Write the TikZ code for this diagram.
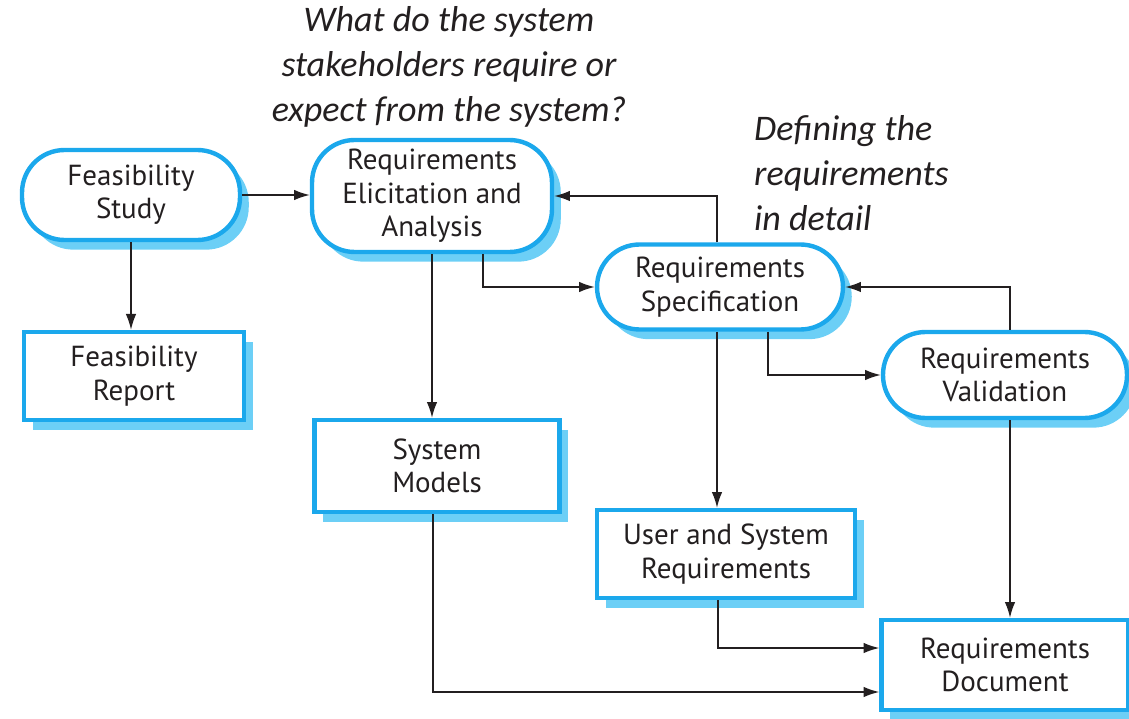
\documentclass[tikz,border=0pt]{standalone}
\usepackage{fontspec}
\setmainfont{PT Sans}
\newfontfamily\notefont{Carlito}
\usetikzlibrary{shadows,arrows.meta}
\definecolor{boxblue}{HTML}{1BA8EC}
\definecolor{shadeblue}{HTML}{6CCFF6}
\definecolor{ink}{HTML}{231F20}
\begin{document}
\begin{tikzpicture}[x=0.02cm, y=-0.02cm,
    base/.style = {draw=boxblue, line width=2.5pt, fill=white, text=ink, align=center,
      font=\fontsize{16.5}{19}\selectfont,
      drop shadow={fill=shadeblue, opacity=1, shadow xshift=5pt, shadow yshift=-5.5pt}},
    stage/.style = {base, rounded corners=0.85cm},
    doc/.style = {base},
    arr/.style = {draw=ink, line width=0.85pt, -{Latex[length=9pt,width=6pt]}},
    note/.style = {text=ink, font=\notefont\itshape\fontsize{20.5}{25.5}\selectfont}]
  \useasboundingbox (0,0) rectangle (1129,719);

  % process stages
  \node[stage, minimum width=4.36cm, minimum height=1.8cm] (1) at (131,195) {Feasibility\\Study};
  \node[stage, minimum width=4.8cm, minimum height=2.24cm] (2) at (432,196) {Requirements\\Elicitation and\\Analysis};
  \node[stage, minimum width=4.92cm, minimum height=1.7cm] (3) at (720,287) {Requirements\\Specification};
  \node[stage, minimum width=4.88cm, minimum height=1.72cm] (4) at (1005,375) {Requirements\\Validation};

  % documents produced
  \node[doc, minimum width=4.4cm, minimum height=1.76cm] (5) at (134,376) {Feasibility\\Report};
  \node[doc, minimum width=4.9cm, minimum height=1.84cm] (6) at (437,466) {System\\Models};
  \node[doc, minimum width=5.16cm, minimum height=1.76cm] (7) at (726,554) {User and System\\Requirements};
  \node[doc, minimum width=4.94cm, minimum height=1.8cm] (8) at (1005,665) {Requirements\\Document};

  % notes
  \node[note, align=center] (q) at (449,67) {What do the system\\stakeholders require or\\expect from the system?};
  \node[note, align=left, anchor=west] (d) at (748,173) {Defining the\\requirements\\in detail};

  \draw[arr] (1.east) -- (1.east -| 2.west);
  \draw[arr] (1.south) -- (1.south |- 5.north);
  \draw[arr] (2.south) -- (2.south |- 6.north);
  \draw[arr] ([xshift=1.02cm]2.south) |- (3.west);
  \draw[arr] ([xshift=-0.06cm]3.north) |- (2.east);
  \draw[arr] ([xshift=0.96cm]3.south) |- (4.west);
  \draw[arr] ([xshift=0.1cm]4.north) |- (3.east);
  \draw[arr] ([xshift=-0.06cm]3.south) -- ([xshift=-0.06cm]3.south |- 7.north);
  \draw[arr] ([xshift=0.1cm]4.south) -- ([xshift=0.1cm]4.south |- 8.north);
  \draw[arr] ([xshift=-0.16cm]7.south) |- ([yshift=0.34cm]8.west);
  \draw[arr] ([xshift=-0.08cm]6.south) |- ([yshift=-0.54cm]8.west);
\end{tikzpicture}
\end{document}
